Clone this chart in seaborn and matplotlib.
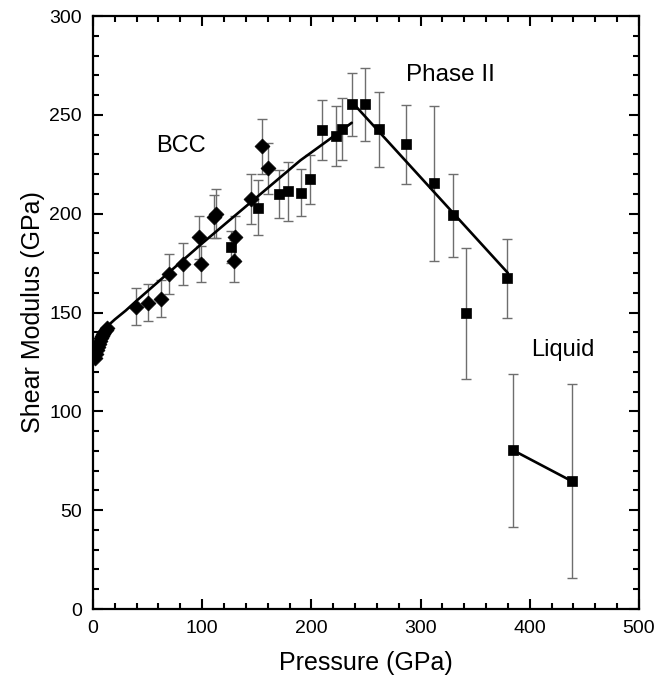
import numpy as np
import pandas as pd
import matplotlib
matplotlib.use('Agg')
import matplotlib.pyplot as plt
import seaborn as sns
from matplotlib.ticker import MultipleLocator

# BCC mērījumi (rombi)
bcc_p = [39, 50, 62, 70, 82, 97, 99, 111, 113, 130, 129, 145, 155, 160]
bcc_g = [153, 155, 157, 169.5, 174.5, 188, 174.5, 198.5, 200, 188, 176, 207.5, 234, 223]
bcc_err = [9.3, 9.5, 9.3, 10.3, 10.8, 11, 9, 11, 12.5, 11, 10.5, 12.5, 14, 13]

# blīvais punktu mākonis pie zemiem spiedieniem
low_p = [1.5, 2.5, 3.5, 4.5, 5.5, 6.5, 7.5, 8.5, 9.5, 10.5, 11.5, 12.5]
low_g = [127, 129, 131, 132.5, 134, 135.5, 137, 138, 139, 140, 141, 142]

# kvadrāti: augsta spiediena mērījumi
sq_p = [126.5, 151, 170, 179, 190.5, 199, 210, 223, 228.5, 237.5, 249.5,
        262, 286.5, 312, 329.5, 341.5, 379, 384.5, 438.5]
sq_g = [183.3, 203, 210, 211.4, 210.6, 217.3, 242.3, 239.3, 242.8, 255.4, 255.4,
        242.8, 235.2, 215.3, 199.3, 149.6, 167.3, 80.4, 64.7]
sq_err = [8, 14, 12, 15, 12, 12.5, 15, 15, 15.5, 16, 18.5,
          19, 20, 39, 21, 33, 20, 38.7, 49]

# pielāgotās līknes
bcc_fit_p = [0, 3, 6, 10, 15, 20, 30, 40, 70, 100, 130, 160, 190, 215, 237]
bcc_fit_g = [125, 131, 135.5, 140, 144, 146.5, 151, 156, 170.5, 185, 199, 213, 227, 237, 246]
ph2_fit_p = [238, 380]
ph2_fit_g = [256, 170]
liq_fit_p = [384.5, 438.5]
liq_fit_g = [80.4, 64.7]

sns.set_style('ticks')
plt.rcParams['font.family'] = ['Liberation Sans', 'DejaVu Sans']
plt.rcParams['text.color'] = 'black'
plt.rcParams['axes.labelcolor'] = 'black'

fig = plt.figure(figsize=(6.69, 6.82), dpi=100)
ax = fig.add_axes([0.139, 0.107, 0.816, 0.8695])

# kļūdu joslas
ax.errorbar(bcc_p, bcc_g, yerr=bcc_err, fmt='none', ecolor='#6e6e6e',
            elinewidth=1.0, capsize=3.6, capthick=1.0, zorder=1)
ax.errorbar(sq_p, sq_g, yerr=sq_err, fmt='none', ecolor='#6e6e6e',
            elinewidth=1.0, capsize=3.6, capthick=1.0, zorder=1)

# līknes
for px, gy in [(bcc_fit_p, bcc_fit_g), (ph2_fit_p, ph2_fit_g), (liq_fit_p, liq_fit_g)]:
    sns.lineplot(x=px, y=gy, color='black', linewidth=1.9, sort=False,
                 ax=ax, zorder=2)

# punkti
df_d = pd.DataFrame({'P': bcc_p + low_p, 'G': bcc_g + low_g})
sns.scatterplot(data=df_d, x='P', y='G', marker='D', s=58, color='black',
                edgecolor='black', linewidth=0.5, ax=ax, zorder=3)
df_s = pd.DataFrame({'P': sq_p, 'G': sq_g})
sns.scatterplot(data=df_s, x='P', y='G', marker='s', s=62, color='black',
                edgecolor='black', linewidth=0.5, ax=ax, zorder=3)

ax.text(81, 234, 'BCC', fontsize=17, ha='center', va='center', color='black')
ax.text(327, 270, 'Phase II', fontsize=17.5, ha='center', va='center', color='black')
ax.text(430, 131, 'Liquid', fontsize=17, ha='center', va='center', color='black')

ax.set_xlim(0, 500)
ax.set_ylim(0, 300)
ax.xaxis.set_major_locator(MultipleLocator(100))
ax.xaxis.set_minor_locator(MultipleLocator(20))
ax.yaxis.set_major_locator(MultipleLocator(50))
ax.yaxis.set_minor_locator(MultipleLocator(10))
ax.tick_params(which='both', direction='in', top=True, right=True,
               width=1.5, colors='black', labelcolor='black', labelsize=14)
ax.tick_params(which='major', length=7)
ax.tick_params(which='minor', length=4)
ax.tick_params(axis='x', which='major', pad=8)
ax.tick_params(axis='y', which='major', pad=8)
for sp in ax.spines.values():
    sp.set_linewidth(1.6)
    sp.set_color('black')

ax.set_xlabel('Pressure (GPa)', fontsize=18, labelpad=10)
ax.set_ylabel('Shear Modulus (GPa)', fontsize=18, labelpad=3)

fig.savefig('out.png', dpi=100)
